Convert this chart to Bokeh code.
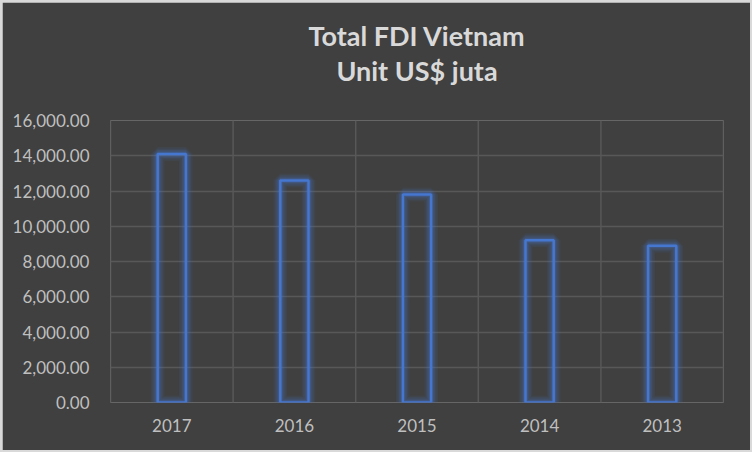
from bokeh.plotting import figure
from bokeh.models import NumeralTickFormatter, FixedTicker, Span, Title
from bokeh.embed import file_html
from bokeh.resources import INLINE

years = ["2017", "2016", "2015", "2014", "2013"]
fdi = [14100, 12600, 11800, 9200, 8900]
y_ticks = [0, 2000, 4000, 6000, 8000, 10000, 12000, 14000, 16000]
title_line1 = "Total FDI Vietnam"
title_line2 = "Unit US$ juta"

BG = "#404040"
GRID = "#585858"
BLUE = "#4677D0"
LABEL = "#BFBFBF"
FONT = "Lato"

p = figure(x_range=years, y_range=(0, 16000), width=748, height=448,
           output_backend="svg", toolbar_location=None,
           min_border_left=108, min_border_right=27, min_border_bottom=48,
           min_border_top=0)
p.title = None


def make_title(txt, size, color="#D9D9D9"):
    return Title(text=txt, align="center", text_font=FONT, text_font_size=size,
                 text_font_style="bold", text_color=color, standoff=0)


p.add_layout(make_title(" ", "26px", BG), "above")
p.add_layout(make_title(title_line2, "27px"), "above")
p.add_layout(make_title(title_line1, "27px"), "above")
p.add_layout(make_title(" ", "10px", BG), "above")

p.background_fill_color = BG
p.border_fill_color = BG
p.outline_line_color = None

p.x_range.range_padding = 0
p.ygrid.grid_line_color = GRID
p.ygrid.grid_line_width = 1.5
p.ygrid.ticker = FixedTicker(ticks=y_ticks)
p.xgrid.grid_line_color = None
for i in range(len(years) + 1):
    p.add_layout(Span(location=i, dimension="height", line_color=GRID, line_width=1.5))

p.yaxis.ticker = FixedTicker(ticks=y_ticks)
p.yaxis.formatter = NumeralTickFormatter(format="0,0.00")
for ax in (p.xaxis[0], p.yaxis[0]):
    ax.axis_line_color = None
    ax.major_tick_line_color = None
    ax.minor_tick_line_color = None
    ax.major_label_text_font = FONT
    ax.major_label_text_font_size = "17px"
    ax.major_label_text_color = LABEL
p.yaxis.major_label_standoff = 15
p.xaxis.major_label_standoff = 10

# glow
for lw, a in [(14, 0.08), (11, 0.1), (8, 0.14), (5, 0.22)]:
    p.vbar(x=years, top=fdi, width=0.23, fill_color=None, line_color=BLUE,
           line_width=lw, line_alpha=a)
p.vbar(x=years, top=fdi, width=0.23, fill_color=None, line_color=BLUE, line_width=2.5)

html = file_html(p, INLINE)
html = html.replace("</head>", "<style>body{background:#D9D9D9 !important;padding:2px !important;}</style></head>")
open("out.html", "w").write(html)
